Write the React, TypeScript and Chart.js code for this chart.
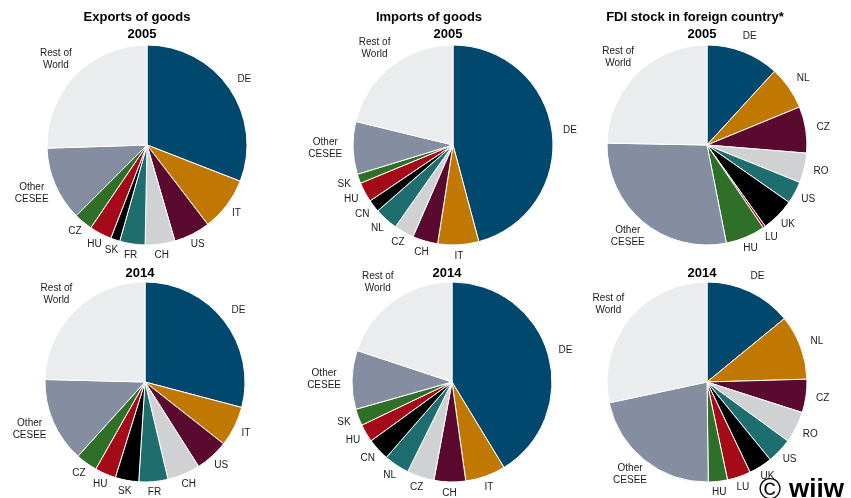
import React, { useEffect, useRef } from "react";
import { Chart, registerables } from "chart.js";

Chart.register(...registerables);

// ---- data (shares in %, clockwise from 12 o'clock) ----
const exportLabels = ["DE", "IT", "US", "CH", "FR", "SK", "HU", "CZ", "Other\nCESEE", "Rest of\nWorld"];
const exports2005 = [30.9, 8.7, 5.9, 4.8, 4.1, 1.5, 3.6, 3.0, 12.0, 25.5];
const exports2014 = [29.1, 6.5, 5.4, 5.3, 4.7, 3.8, 3.4, 3.5, 13.7, 24.6];

const importLabels = ["DE", "IT", "CH", "CZ", "NL", "CN", "HU", "SK", "Other\nCESEE", "Rest of\nWorld"];
const imports2005 = [45.8, 6.6, 4.1, 3.2, 3.8, 2.0, 3.2, 1.5, 8.5, 21.2];
const imports2014 = [41.3, 6.5, 5.1, 4.4, 4.1, 3.6, 2.9, 2.7, 9.5, 19.9];

const fdiLabels = ["DE", "NL", "CZ", "RO", "US", "UK", "LU", "HU", "Other\nCESEE", "Rest of\nWorld"];
const fdi2005 = [11.8, 7.0, 7.5, 4.8, 3.6, 5.4, 0.4, 6.4, 28.4, 24.7];
const fdi2014 = [14.1, 10.5, 5.4, 5.1, 4.1, 3.8, 3.8, 3.1, 21.9, 28.4];

const palette = [
  "#00486E", // blue
  "#C07800", // orange
  "#5A0A2E", // maroon
  "#D0D1D3", // light gray
  "#1E6E70", // teal
  "#000000", // black
  "#A50A19", // red
  "#2E7028", // green
  "#848EA0", // blue-gray
  "#EBECEE", // rest of world
];

const FONT = "'Liberation Sans', Arial, Helvetica, sans-serif";

const outerLabels = {
  id: "outerLabels",
  afterDatasetsDraw(chart: any) {
    const ctx = chart.ctx;
    const meta = chart.getDatasetMeta(0);
    const labels = chart.data.labels as string[];
    ctx.save();
    ctx.font = `10px ${FONT}`;
    ctx.fillStyle = "#1a1a1a";
    ctx.textAlign = "center";
    ctx.textBaseline = "middle";
    const lh = 12;
    meta.data.forEach((arc: any, i: number) => {
      const { x, y, startAngle, endAngle, outerRadius } = arc.getProps(
        ["x", "y", "startAngle", "endAngle", "outerRadius"],
        true
      );
      const mid = (startAngle + endAngle) / 2;
      const c = Math.cos(mid);
      const s = Math.sin(mid);
      const lines = String(labels[i]).split("\n");
      const w = Math.max(...lines.map((l) => ctx.measureText(l).width));
      const h = lines.length * lh;
      const gap = 11 - 6 * Math.max(0, s);
      const ax = x + (outerRadius + gap) * c;
      const ay = y + (outerRadius + gap) * s;
      const bx = ax + (w / 2) * c;
      const by = ay + (h / 2) * s;
      lines.forEach((l, k) => ctx.fillText(l, bx, by - h / 2 + lh / 2 + k * lh));
    });
    ctx.restore();
  },
};

const W = 320;
const H = 260;

function PieChart({ labels, values, cx, cy }: { labels: string[]; values: number[]; cx: number; cy: number }) {
  const ref = useRef<HTMLCanvasElement | null>(null);
  useEffect(() => {
    if (!ref.current) return;
    const chart = new Chart(ref.current, {
      type: "pie",
      data: {
        labels,
        datasets: [
          {
            data: values,
            backgroundColor: palette,
            borderColor: "#ffffff",
            borderWidth: 1,
          },
        ],
      },
      options: {
        responsive: false,
        animation: false,
        radius: 100,
        layout: { padding: 0 },
        plugins: { legend: { display: false }, tooltip: { enabled: false } },
      } as any,
      plugins: [outerLabels],
    });
    return () => chart.destroy();
  }, []);
  return (
    <canvas
      ref={ref}
      width={W}
      height={H}
      style={{ position: "absolute", left: cx - W / 2, top: cy - H / 2, width: W, height: H }}
    />
  );
}

function Label({ text, x, y, size = 13, bold = true }: { text: string; x: number; y: number; size?: number; bold?: boolean }) {
  return (
    <div
      style={{
        position: "absolute",
        left: x,
        top: y,
        transform: "translate(-50%, -50%)",
        fontSize: size,
        fontWeight: bold ? "bold" : "normal",
        lineHeight: 1,
        whiteSpace: "nowrap",
        color: "#000",
        zIndex: 2,
      }}
    >
      {text}
    </div>
  );
}

export default function App() {
  return (
    <div
      style={{
        position: "fixed",
        left: 0,
        top: 0,
        width: 851,
        height: 498,
        background: "#fff",
        overflow: "hidden",
        fontFamily: FONT,
      }}
    >
      <PieChart labels={exportLabels} values={exports2005} cx={147} cy={145} />
      <PieChart labels={importLabels} values={imports2005} cx={453} cy={145} />
      <PieChart labels={fdiLabels} values={fdi2005} cx={707} cy={145} />
      <PieChart labels={exportLabels} values={exports2014} cx={145} cy={382} />
      <PieChart labels={importLabels} values={imports2014} cx={452} cy={382} />
      <PieChart labels={fdiLabels} values={fdi2014} cx={707} cy={382} />

      <Label text="Exports of goods" x={137} y={16} />
      <Label text="Imports of goods" x={429} y={16} />
      <Label text="FDI stock in foreign country*" x={695} y={16} />
      <Label text="2005" x={142} y={33} />
      <Label text="2005" x={448} y={33} />
      <Label text="2005" x={702} y={33} />
      <Label text="2014" x={140} y={272} />
      <Label text="2014" x={447} y={272} />
      <Label text="2014" x={702} y={272} />

      <div
        style={{
          position: "absolute",
          left: 759,
          top: 474,
          fontSize: 30,
          lineHeight: "30px",
          color: "#000",
          zIndex: 3,
        }}
      >
        ©
      </div>
      <div
        style={{
          position: "absolute",
          left: 789,
          top: 476,
          fontSize: 26,
          fontWeight: "bold",
          lineHeight: "25px",
          color: "#000",
          zIndex: 3,
        }}
      >
        wiiw
      </div>
    </div>
  );
}
